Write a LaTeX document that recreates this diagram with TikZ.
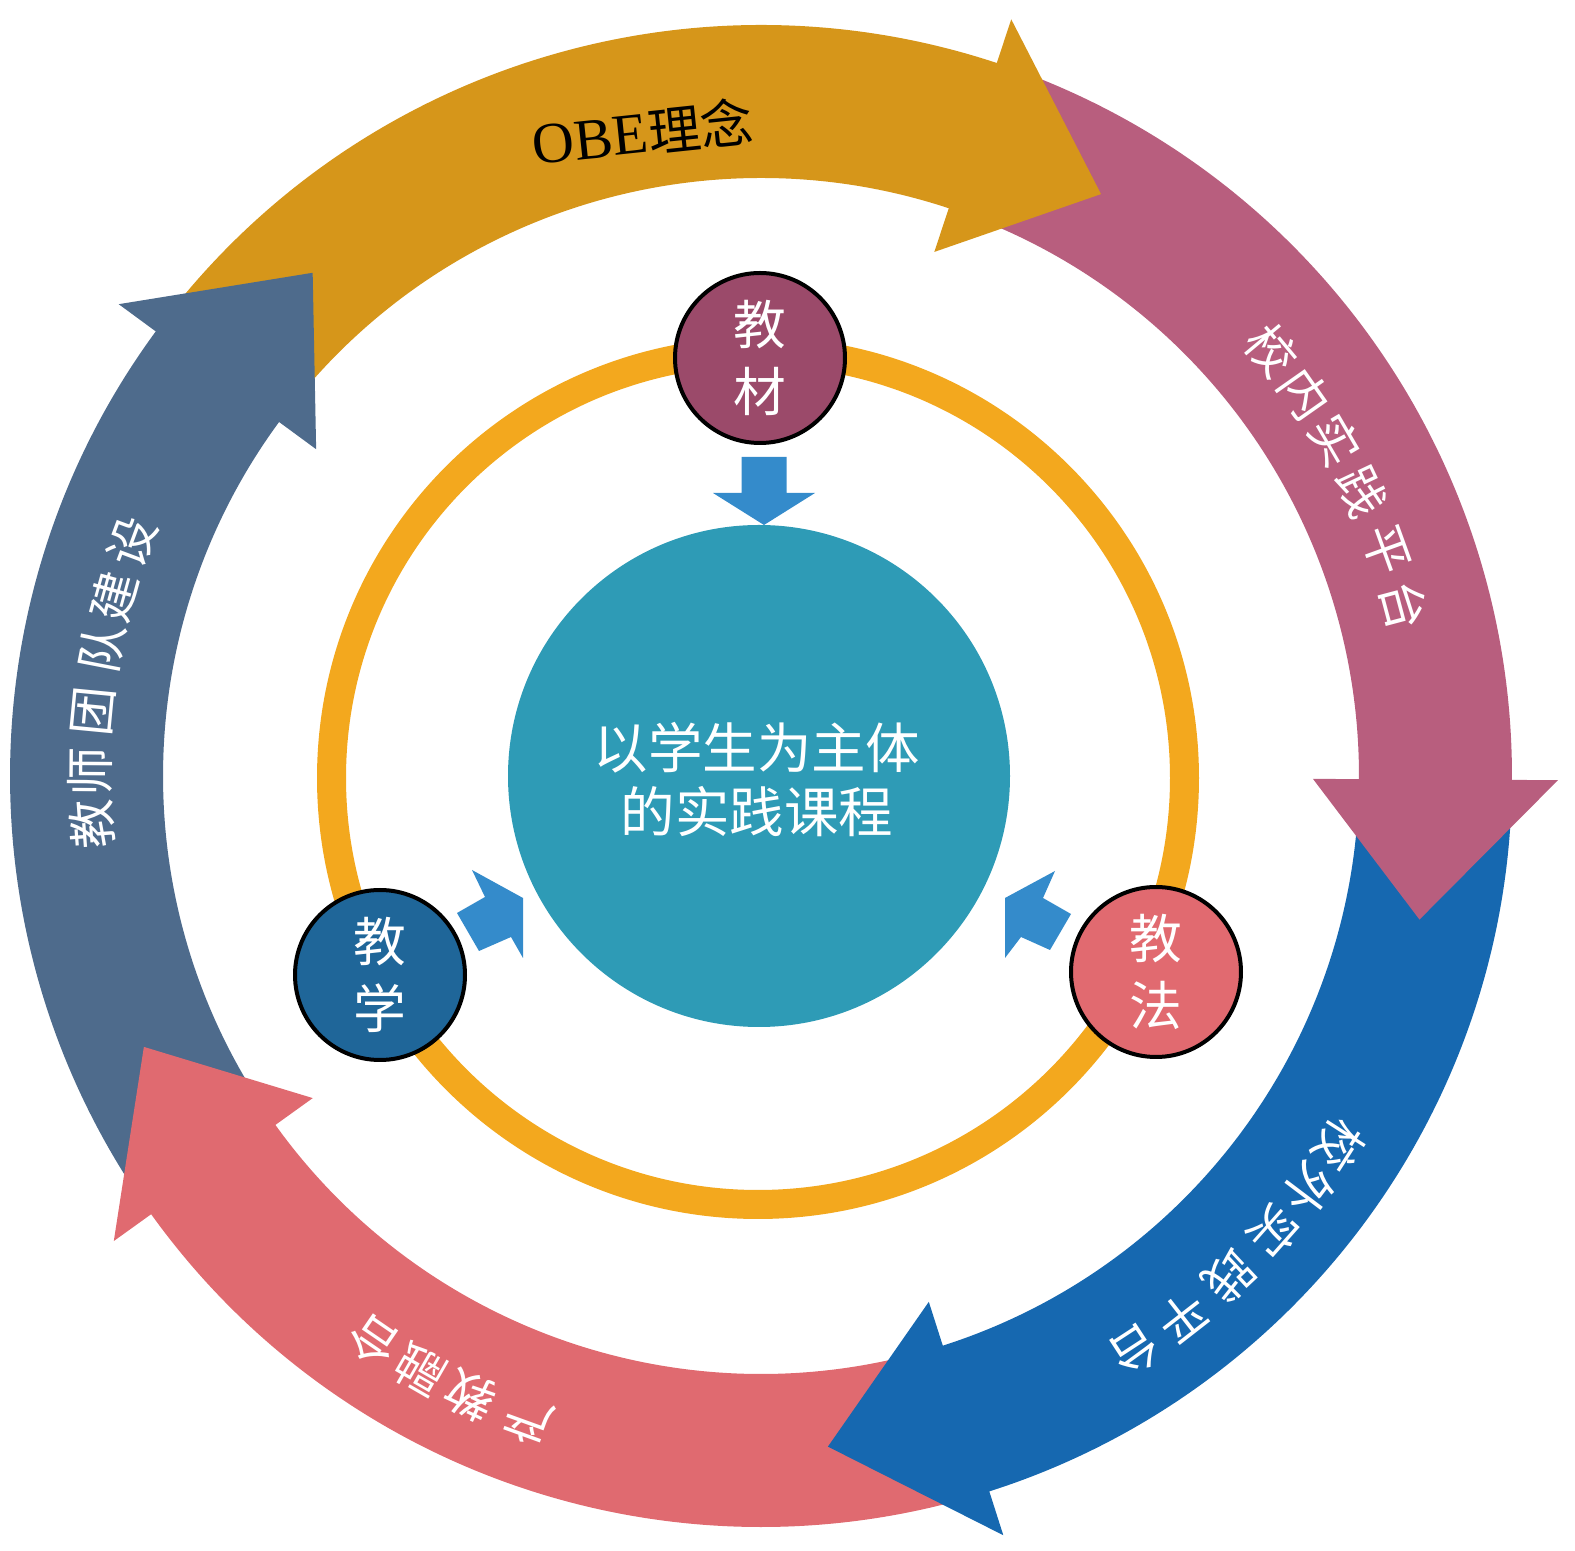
\documentclass[tikz,border=0pt]{standalone}
\usepackage{fontspec}
\setmainfont{Liberation Serif}
\newfontfamily\cjk{Noto Sans CJK SC}
\definecolor{cGold}{HTML}{D6961A}
\definecolor{cMauve}{HTML}{B85E7E}
\definecolor{cBlue}{HTML}{1668B0}
\definecolor{cCoral}{HTML}{E06A70}
\definecolor{cSlate}{HTML}{4E6B8C}
\definecolor{cRing}{HTML}{F3A81E}
\definecolor{cTeal}{HTML}{2E9BB6}
\definecolor{cWine}{HTML}{9B4A6A}
\definecolor{cNavy}{HTML}{1F6699}
\definecolor{cRose}{HTML}{E16A70}
\definecolor{cArrow}{HTML}{348BCB}
\tikzset{
  arctext/.style={text=white, font=\cjk\fontsize{14}{14}\selectfont, inner sep=0pt},
  badge/.style={circle, draw=black, line width=0.04cm, minimum size=1.70cm, inner sep=0pt,
    text=white, align=center, font=\cjk\fontsize{15}{19.3}\selectfont},
  coredisc/.style={circle, fill=cTeal, minimum size=5.02cm, inner sep=0pt},
  coretext/.style={text=white, align=center, inner sep=0pt,
    font=\cjk\fontsize{15.5}{18.2}\selectfont},
  blockarrow/.style={fill=cArrow},
}
\begin{document}
\begin{tikzpicture}
\useasboundingbox (0,0) rectangle (15.75,-15.51);
\begin{scope}[shift={(7.61,-7.76)}]
  % arrow bodies
  \foreach \b/\col in {71.7/cGold,-0.3/cMauve,-72.3/cBlue,-144.3/cCoral,143.7/cSlate}{
    \pgfmathsetmacro\sA{\b+70}
    \pgfmathsetmacro\eA{\b-1}
    \fill[\col] (\sA:5.98) arc[start angle=\sA, end angle=\eA, radius=5.98cm]
      -- (\eA:7.51) arc[start angle=\eA, end angle=\sA, radius=7.51cm] -- cycle;
  }
  % arrow heads
  \foreach \b/\col in {71.7/cGold,-0.3/cMauve,-72.3/cBlue,-144.3/cCoral,143.7/cSlate}{
    \pgfmathsetmacro\tA{\b-12}
    \fill[\col] (\b:5.52) -- (\tA:6.74) -- (\b:7.97) -- cycle;
  }
  % arc labels
  \node[rotate=6, inner sep=0pt] (obe) at (100.4:6.55)
    {\fontsize{16.5}{16.5}\selectfont OBE\cjk\fontsize{15}{15}\selectfont 理念};
  \foreach \ch/\a [count=\i] in {校/39.8,内/35.1,实/30.3,践/25.3,平/19.9,台/14.9}
    \node[arctext, rotate=\a-90] (inA\i) at (\a:6.65) {\ch};
  \foreach \ch/\a [count=\i] in {校/-32.6,外/-37.1,实/-41.6,践/-46.9,平/-52.1,台/-56.9}
    \node[arctext, rotate=\a-90] (outA\i) at (\a:6.86) {\ch};
  \foreach \ch/\a [count=\i] in {产/-109.9,教/-115.1,融/-119.9,合/-124.4}
    \node[arctext, rotate=\a-90] (ind\i) at (\a:6.85) {\ch};
  \foreach \ch/\a [count=\i] in {教/184.1,师/179.6,团/174.5,队/169.0,建/164.5,设/159.6}
    \node[arctext, rotate=\a-90] (team\i) at (\a:6.71) {\ch};
\end{scope}
% inner ring
\draw[cRing, line width=0.29cm] (7.58,-7.78) circle[radius=4.265cm];
% core
\node[coredisc] (core) at (7.59,-7.76) {};
\node[coretext] (coretxt) at (7.57,-7.80) {以学生为主体\\的实践课程};
% badges
\node[badge, fill=cWine] (jc) at (7.60,-3.58) {教\\材};
\node[badge, fill=cNavy] (jx) at (3.80,-9.75) {教\\学};
\node[badge, fill=cRose] (jf) at (11.56,-9.72) {教\\法};
% block arrows
\fill[blockarrow] (7.415,-4.57) -- (7.865,-4.57) -- (7.865,-4.93) -- (8.15,-4.93)
  -- (7.64,-5.25) -- (7.13,-4.93) -- (7.415,-4.93) -- cycle;
\fill[blockarrow] (4.72,-8.70) -- (5.23,-8.98) -- (5.23,-9.58) -- (5.11,-9.37)
  -- (4.79,-9.51) -- (4.57,-9.13) -- (4.85,-8.97) -- cycle;
\fill[blockarrow] (10.55,-8.71) -- (10.05,-8.98) -- (10.05,-9.58) -- (10.21,-9.37)
  -- (10.50,-9.50) -- (10.71,-9.14) -- (10.43,-8.98) -- cycle;
\end{tikzpicture}
\end{document}
